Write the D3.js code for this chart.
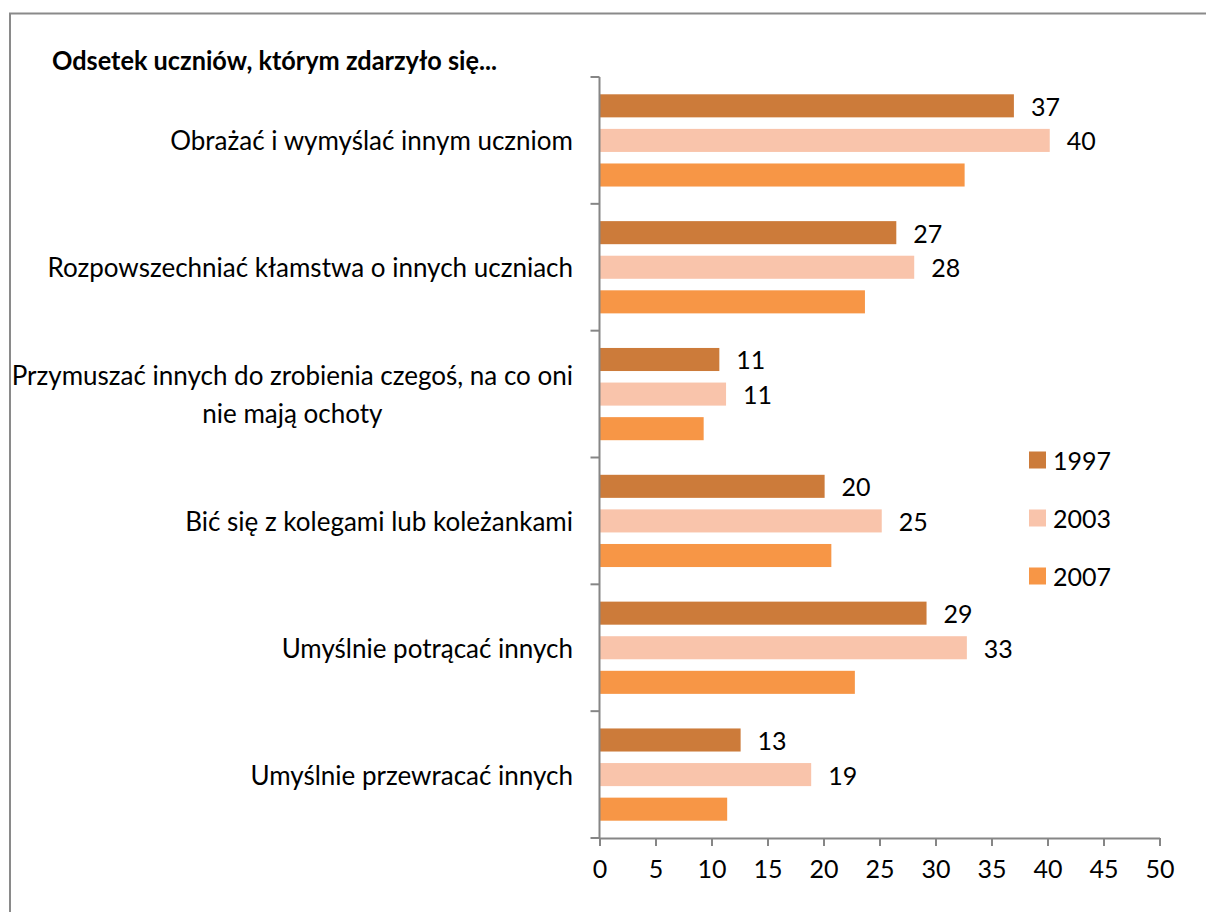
<!DOCTYPE html>
<html>
<head>
<meta charset="utf-8">
<script src="https://cdn.jsdelivr.net/npm/d3@7"></script>
<style>
  html, body { margin: 0; padding: 0; background: #fff; }
  svg { display: block; }
  text { font-family: Lato, "Open Sans", sans-serif; fill: #000; }
</style>
</head>
<body>
<svg id="chart" width="1206" height="912"></svg>
<script>
// ---- data ----
const categories = [
  "Obrażać i wymyślać innym uczniom",
  "Rozpowszechniać kłamstwa o innych uczniach",
  "Przymuszać innych do zrobienia czegoś, na co oni|nie mają ochoty",
  "Bić się z kolegami lub koleżankami",
  "Umyślnie potrącać innych",
  "Umyślnie przewracać innych"
];
const seriesNames = ["1997", "2003", "2007"];
const values1997 = [37.0, 26.5, 10.7, 20.1, 29.2, 12.6];
const values2003 = [40.2, 28.1, 11.3, 25.2, 32.8, 18.9];
const values2007 = [32.6, 23.7, 9.3, 20.7, 22.8, 11.4];
const labels1997 = ["37", "27", "11", "20", "29", "13"];
const labels2003 = ["40", "28", "11", "25", "33", "19"];
const labels2007 = [null, null, null, null, null, null];
const xTicks = [0, 5, 10, 15, 20, 25, 30, 35, 40, 45, 50];
const titleText = "Odsetek uczniów, którym zdarzyło się...";
const colors = ["#CC7B3A", "#F9C4AB", "#F79646"];

const seriesValues = [values1997, values2003, values2007];
const seriesLabels = [labels1997, labels2003, labels2007];

// ---- layout ----
const svg = d3.select("#chart");
const W = 1206, H = 912;
const plot = { left: 599.5, right: 1159.5, top: 77, bottom: 838 };
const FS = 26;

// outer border (top & left visible)
svg.append("rect")
  .attr("x", 10).attr("y", 13.5)
  .attr("width", W + 20).attr("height", H + 20)
  .attr("fill", "none").attr("stroke", "#8a8a8a").attr("stroke-width", 2);

const x = d3.scaleLinear().domain([0, 50]).range([plot.left, plot.right]);
const y = d3.scaleBand().domain(categories).range([plot.top, plot.bottom]).padding(0);
const ys = d3.scaleBand().domain(seriesNames).range([0, y.bandwidth()])
  .paddingInner(1/3).paddingOuter(0.5);

// title
svg.append("text")
  .attr("x", 52).attr("y", 60)
  .attr("dominant-baseline", "central")
  .attr("textLength", 445).attr("lengthAdjust", "spacingAndGlyphs")
  .style("font-weight", "bold").style("font-size", "26px")
  .text(titleText);

// bars
const barData = [];
categories.forEach((c, i) => {
  seriesNames.forEach((s, j) => {
    barData.push({ cat: c, ser: s, v: seriesValues[j][i], label: seriesLabels[j][i], color: colors[j] });
  });
});

const g = svg.append("g");
g.selectAll("rect.bar").data(barData).enter().append("rect")
  .attr("class", "bar")
  .attr("x", x(0))
  .attr("y", d => y(d.cat) + ys(d.ser))
  .attr("width", d => x(d.v) - x(0))
  .attr("height", ys.bandwidth())
  .attr("fill", d => d.color);

// data labels
g.selectAll("text.lbl").data(barData.filter(d => d.label)).enter().append("text")
  .attr("class", "lbl")
  .attr("x", d => x(d.v) + 17)
  .attr("y", d => y(d.cat) + ys(d.ser) + ys.bandwidth() / 2)
  .attr("dominant-baseline", "central")
  .style("font-size", "25px")
  .text(d => d.label);

// axes
const axisColor = "#868686";
svg.append("line")
  .attr("x1", plot.left).attr("x2", plot.left)
  .attr("y1", plot.top).attr("y2", plot.bottom)
  .attr("stroke", axisColor).attr("stroke-width", 2);
const yTickPos = categories.map(c => y(c)).concat([plot.bottom]);
svg.selectAll("line.ytick").data(yTickPos).enter().append("line")
  .attr("x1", plot.left - 9).attr("x2", plot.left)
  .attr("y1", d => d).attr("y2", d => d)
  .attr("stroke", axisColor).attr("stroke-width", 2);

const xAxis = d3.axisBottom(x).tickValues(xTicks).tickSize(8).tickPadding(14).tickSizeOuter(0);
const xg = svg.append("g").attr("transform", `translate(0,${plot.bottom})`).call(xAxis);
xg.select(".domain").attr("stroke", axisColor).attr("stroke-width", 2);
xg.selectAll(".tick line").attr("stroke", axisColor).attr("stroke-width", 2);
xg.selectAll(".tick text")
  .style("font-family", "Lato, 'Open Sans', sans-serif")
  .style("font-size", "25px").attr("fill", "#000");

// category labels
categories.forEach(c => {
  const lines = c.split("|");
  const cy = y(c) + y.bandwidth() / 2;
  if (lines.length === 1) {
    svg.append("text")
      .attr("x", 573).attr("y", cy)
      .attr("text-anchor", "end").attr("dominant-baseline", "central")
      .style("font-size", FS + "px")
      .text(c);
  } else {
    const t = svg.append("text")
      .attr("y", cy).attr("text-anchor", "middle")
      .style("font-size", FS + "px");
    const lh = 38;
    lines.forEach((ln, k) => {
      t.append("tspan")
        .attr("y", cy + (k - (lines.length - 1) / 2) * lh)
        .attr("dominant-baseline", "central")
        .text(ln);
    });
    const spans = t.selectAll("tspan").nodes();
    const maxW = d3.max(spans, n => n.getComputedTextLength());
    t.selectAll("tspan").attr("x", 573 - maxW / 2);
  }
});

// legend
const legend = svg.append("g");
seriesNames.forEach((s, j) => {
  const ly = 460 + j * 58;
  legend.append("rect")
    .attr("x", 1029).attr("y", ly - 8.5)
    .attr("width", 17).attr("height", 17)
    .attr("fill", colors[j]);
  legend.append("text")
    .attr("x", 1053).attr("y", ly)
    .attr("dominant-baseline", "central")
    .style("font-size", "25px")
    .text(s);
});
</script>
</body>
</html>
